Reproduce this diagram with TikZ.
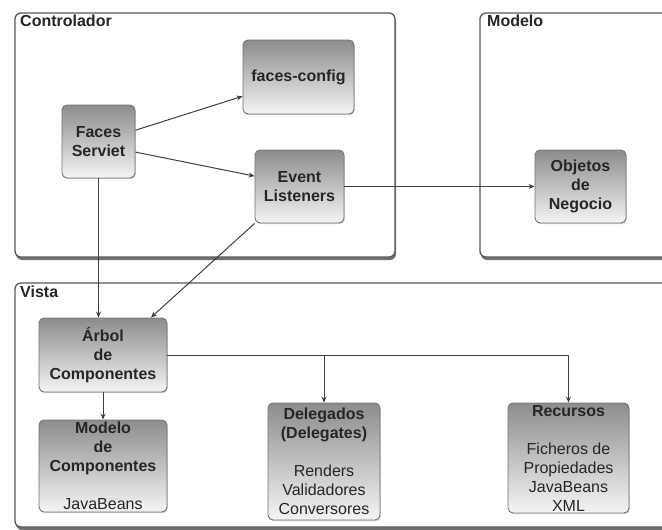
\documentclass[tikz,border=0pt]{standalone}
\usepackage{fontspec}
\setmainfont{Liberation Sans}
\usetikzlibrary{shadows,arrows.meta,calc}
\begin{document}
\begin{tikzpicture}[x=1pt,y=1pt,
  cont/.style={draw=black!65, line width=1.3pt, rounded corners=6pt, fill=white, inner sep=0pt,
    drop shadow={shadow xshift=1pt, shadow yshift=-3pt, opacity=0.8, fill=black!70}},
  box/.style={draw=black!55, line width=0.9pt, rounded corners=5pt, top color=black!45, bottom color=black!4,
    inner sep=0pt, drop shadow={shadow xshift=0.8pt, shadow yshift=-1.2pt, opacity=0.35}},
  txt/.style={align=center, inner sep=0pt, text=black!85, font=\fontsize{16}{19}\selectfont\bfseries},
  ttl/.style={anchor=base west, inner sep=0pt, text=black!85, font=\fontsize{16}{19}\selectfont\bfseries},
  conn/.style={draw=black!75, line width=1pt, -{Stealth[length=6pt,width=5pt]}}
]
\useasboundingbox (0,0) rectangle (662,-530);
\clip (0,0) rectangle (662,-530);
% containers
\node[cont, minimum width=380, minimum height=244] (ctrl) at (205,-135) {};
\node[cont, minimum width=200, minimum height=244] (mod) at (580,-135) {};
\node[cont, minimum width=665, minimum height=244] (vista) at (347.5,-405) {};
\node[ttl] (tctrl) at (20,-27) {Controlador};
\node[ttl] (tmod) at (487,-27) {Modelo};
\node[ttl] (tvista) at (20,-297) {Vista};
% boxes
\node[box, minimum width=111, minimum height=74] (fc) at (298.5,-77) {};
\node[txt] (fct) at (fc) {faces-config};
\node[box, minimum width=73, minimum height=73] (fs) at (98.5,-141.5) {};
\node[txt] (fst) at (fs) {Faces\\Serviet};
\node[box, minimum width=89, minimum height=73] (el) at (299.5,-186.5) {};
\node[txt] (elt) at (el) {Event\\Listeners};
\node[box, minimum width=91, minimum height=73] (ob) at (580.5,-186.5) {};
\node[txt] (obt) at (ob) {Objetos\\de\\Negocio};
\node[box, minimum width=128, minimum height=74] (arbol) at (103,-355) {};
\node[txt] (arbolt) at (arbol) {Árbol\\de\\Componentes};
\node[box, minimum width=128, minimum height=92] (mc) at (103,-466) {};
\node[txt] (mct) at (mc) {Modelo\\de\\Componentes\\[19pt]\mdseries JavaBeans};
\node[box, minimum width=112, minimum height=117] (del) at (324,-461.5) {};
\node[txt] (delt) at (del) {Delegados\\(Delegates)\\[19pt]\mdseries Renders\\\mdseries Validadores\\\mdseries Conversores};
\node[box, minimum width=121, minimum height=110] (rec) at (568.5,-458) {};
\node[txt] (rect) at (rec) {Recursos\\[19pt]\mdseries Ficheros de\\\mdseries Propiedades\\\mdseries JavaBeans\\\mdseries XML};
% connectors
\draw[conn] (fs.17.5) -- (fc.199);
\draw[conn] (fs.-16) -- (el.167);
\draw[conn] (el.east) -- (ob.west);
\draw[conn] (fs.south) -- (fs.south |- arbol.north);
\draw[conn] (el.south west) -- (arbol.38);
\draw[conn] (arbol.east) -| (rec.north);
\draw[conn] (del.north |- arbol.east) -- (del.north);
\draw[conn] (arbol.south) -- (mc.north);
\end{tikzpicture}
\end{document}
